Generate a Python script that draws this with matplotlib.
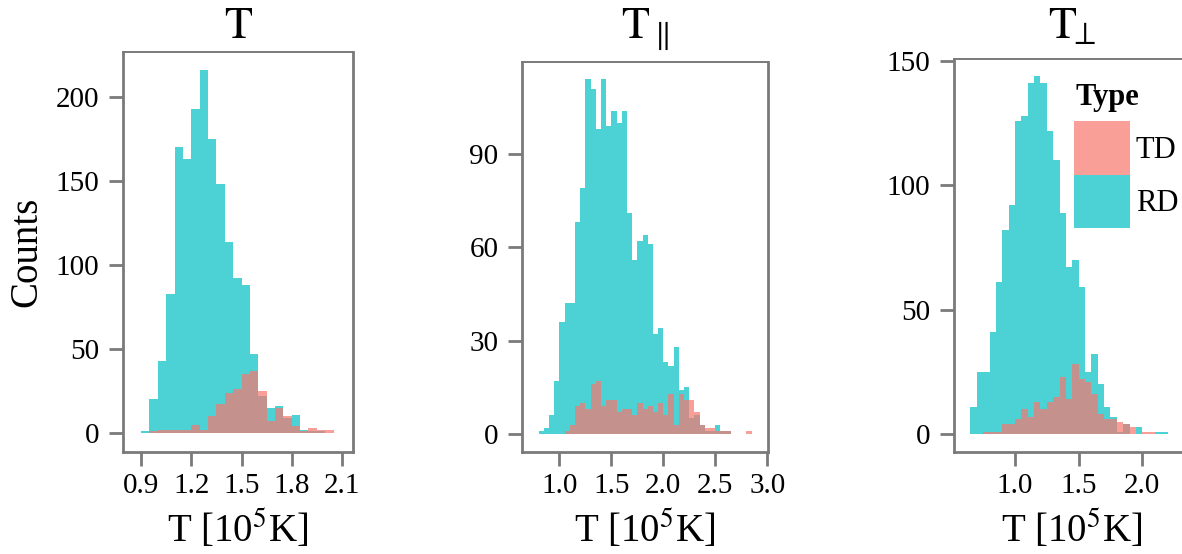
"""Histograms of T, T-parallel and T-perpendicular for TD and RD events."""

import matplotlib

matplotlib.use("Agg")
import matplotlib.pyplot as plt  # noqa: E402
import numpy as np  # noqa: E402
from matplotlib.patches import Rectangle  # noqa: E402
from matplotlib.ticker import FormatStrFormatter  # noqa: E402

W, H = 1182, 554
BIN_WIDTH = 0.05

# T, bins of 0.05 starting at 0.90 (units of 1e5 K)
T_START = 0.90
T_RD = [1, 20, 43, 83, 170, 163, 193, 216, 175, 148, 114, 92, 88, 47, 22, 15,
        16, 9, 11, 2, 1, 1, 0]
T_TD = [0, 1, 2, 2, 2, 2, 5, 2, 10, 17, 24, 26, 35, 37, 25, 7, 15, 10, 4, 1,
        3, 2, 2]

# T parallel, bins start at 0.80
TPAR_START = 0.80
TPAR_RD = [1, 2, 6, 17, 36, 42, 42, 68, 79, 114, 111, 98, 114, 99, 104, 100,
           104, 71, 56, 62, 64, 61, 32, 34, 23, 22, 28, 14, 15, 5, 6, 3, 1, 1,
           3, 1, 1, 0, 0, 0, 0]
TPAR_TD = [0, 0, 0, 0, 0, 1, 3, 9, 10, 8, 16, 17, 9, 11, 11, 7, 8, 8, 6, 10,
           8, 9, 7, 10, 6, 13, 3, 13, 11, 11, 7, 3, 2, 2, 1, 1, 1, 0, 0, 0, 1]

# T perpendicular, bins start at 0.65
TPERP_START = 0.65
TPERP_RD = [11, 25, 25, 41, 61, 82, 92, 126, 128, 141, 144, 141, 122, 110, 89,
            67, 70, 59, 25, 32, 20, 11, 7, 1, 4, 0, 3, 0, 0, 1, 1]
TPERP_TD = [0, 0, 1, 1, 1, 4, 4, 6, 10, 7, 13, 10, 13, 15, 23, 14, 28, 22, 21,
            16, 8, 6, 6, 5, 4, 3, 0, 1, 1, 0, 0]

# subscripts pulled in a little towards the T
TITLES = [r"$\mathrm{T}$", r"$\mathrm{T}_{\parallel}$", r"$\mathrm{T}_{\!\!\perp}$"]
XTICKS = [[0.9, 1.2, 1.5, 1.8, 2.1], [1.0, 1.5, 2.0, 2.5, 3.0], [1.0, 1.5, 2.0]]
YTICKS = [[0, 50, 100, 150, 200], [0, 30, 60, 90], [0, 50, 100, 150]]
XLABEL = r"T [10$^{5}$K]"
YLABEL = "Counts"
TYPES = ["TD", "RD"]

COLORS = {"TD": "#F8766D", "RD": "#00BFC4"}
ALPHA = 0.7
FRAME = "#7a7a7a"

plt.rcParams["font.family"] = ["Liberation Serif", "DejaVu Serif"]
plt.rcParams["mathtext.fontset"] = "stix"


def fx(px):
    return px / W


def fy(py):
    return 1 - py / H


# panel frames in pixels: left, top, right, bottom; then axis limits
panels = [
    dict(box=(123, 52, 353, 452), xlim=(0.7925, 2.1657), ylim=(-11.3, 226.8),
         start=T_START, rd=T_RD, td=T_TD),
    dict(box=(522, 62, 768, 452), xlim=(0.641, 3.007), ylim=(-5.79, 119.6),
         start=TPAR_START, rd=TPAR_RD, td=TPAR_TD),
    dict(box=(954, 59, 1190, 452), xlim=(0.521, 2.375), ylim=(-7.24, 150.8),
         start=TPERP_START, rd=TPERP_RD, td=TPERP_TD),
]

fig = plt.figure(figsize=(W / 100, H / 100), dpi=100)

for i, p in enumerate(panels):
    left, top, right, bottom = p["box"]
    ax = fig.add_axes([fx(left), fy(bottom), (right - left) / W, (bottom - top) / H])

    # RD underneath, TD on top, both semi-transparent
    for counts, name in ((p["rd"], "RD"), (p["td"], "TD")):
        edges = p["start"] + BIN_WIDTH * np.arange(len(counts) + 1)
        ax.stairs(counts, edges, fill=True, color=COLORS[name], alpha=ALPHA,
                  linewidth=0)

    ax.set_xlim(*p["xlim"])
    ax.set_ylim(*p["ylim"])
    ax.set_xticks(XTICKS[i])
    ax.set_yticks(YTICKS[i])
    ax.xaxis.set_major_formatter(FormatStrFormatter("%.1f"))
    ax.tick_params(direction="out", length=10, width=2.0, color=FRAME,
                   labelsize=21, labelcolor="black")
    ax.tick_params(axis="x", pad=5)
    ax.tick_params(axis="y", pad=7)
    for side, spine in ax.spines.items():
        spine.set_color(FRAME)
        spine.set_linewidth(1.4 if side == "top" else 2.0)

    ax.set_xlabel(XLABEL, fontsize=28, va="baseline")
    ax.xaxis.set_label_coords(0.5, (bottom - 542) / (bottom - top))

    cx = (left + right) / 2
    fig.text(fx(cx), fy(38), TITLES[i], ha="center", va="baseline", fontsize=33)

ax0 = fig.axes[0]
ax0.set_ylabel(YLABEL, fontsize=28, va="center")
ax0.yaxis.set_label_coords((27 - 123) / (353 - 123), 0.5)

# legend for the event type
fig.text(fx(1075), fy(105), "Type", fontsize=22, fontweight="bold", va="baseline")
key_tops = [121, 175]
key_bottoms = [175, 228]
for name, kt, kb in zip(TYPES, key_tops, key_bottoms):
    fig.add_artist(Rectangle((fx(1074), fy(kb)), 56 / W, (kb - kt) / H,
                             transform=fig.transFigure, facecolor=COLORS[name],
                             alpha=ALPHA, linewidth=0))
    fig.text(fx(1136), fy(kb - 17), name, fontsize=22, va="baseline")

fig.savefig("out.png", dpi=100)
